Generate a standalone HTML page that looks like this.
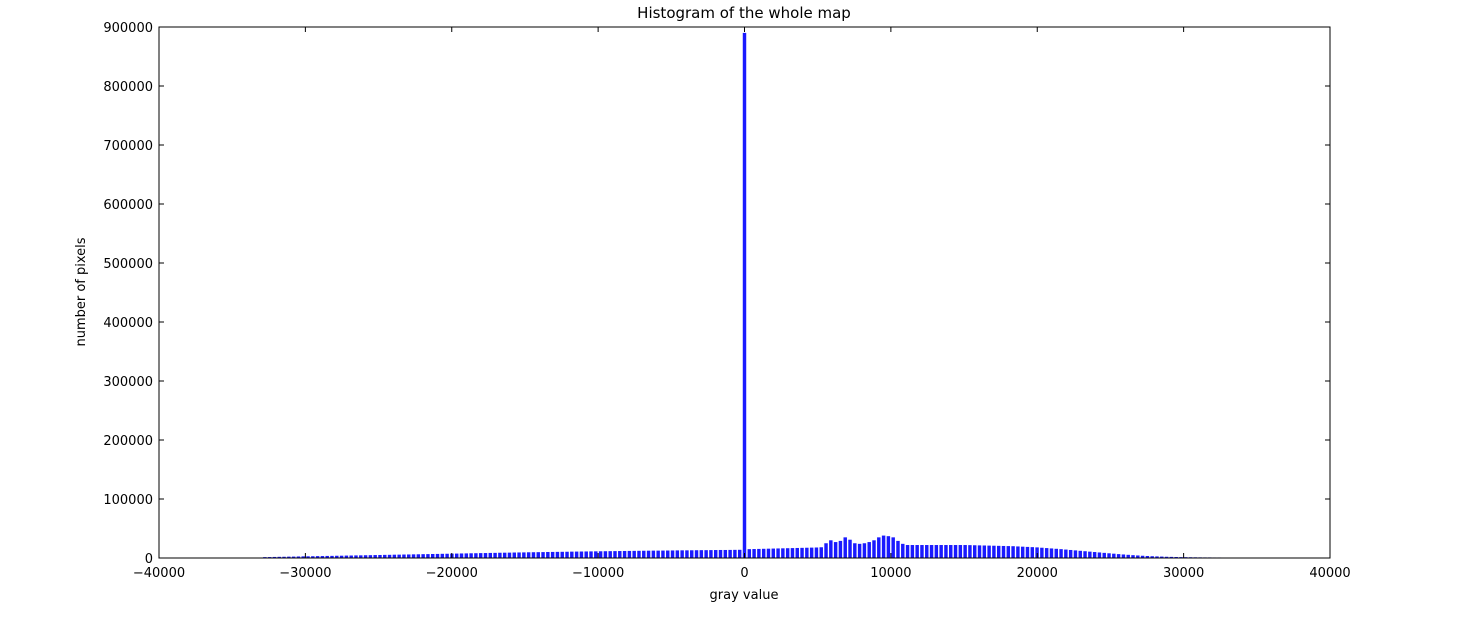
<!DOCTYPE html>
<html><head><meta charset="utf-8"><style>
body{margin:0;background:#fff;}
svg text{font-family:"DejaVu Sans","Liberation Sans",sans-serif;fill:#000;}
</style></head><body>
<svg id="chart" width="1466" height="620" xmlns="http://www.w3.org/2000/svg">
<text x="744" y="18" font-size="15" text-anchor="middle">Histogram of the whole map</text>
<g id="bars"></g>
<g id="axes"></g>
<rect x="159" y="27" width="1171" height="531" fill="none" stroke="#000" stroke-width="1"/>
<text x="744" y="599" font-size="13" text-anchor="middle">gray value</text>
<text x="0" y="0" font-size="13" text-anchor="middle" transform="translate(85,292) rotate(-90)">number of pixels</text>
</svg>
<script>
const xTicks=[-40000,-30000,-20000,-10000,0,10000,20000,30000,40000];
const xTickLabels=["\u221240000","\u221230000","\u221220000","\u221210000","0","10000","20000","30000","40000"];
const yTicks=[0,100000,200000,300000,400000,500000,600000,700000,800000,900000];
const yTickLabels=["0","100000","200000","300000","400000","500000","600000","700000","800000","900000"];
const binStart=-32932;
const binWidth=327.68;
const countsK=[1.5,1.6,1.8,2,2.1,2.3,2.4,2.6,2.8,2.9,
3.0,3.2,3.3,3.5,3.6,3.8,3.9,4.1,4.2,4.4,
4.5,4.7,4.8,5.0,5.1,5.3,5.4,5.6,5.7,5.9,
6.0,6.2,6.3,6.5,6.6,6.8,6.9,7.1,7.2,7.4,
7.5,7.7,7.8,8.0,8.1,8.3,8.4,8.6,8.7,8.9,
9.0,9.1,9.3,9.4,9.5,9.7,9.8,9.9,10.0,10.2,
10.3,10.4,10.5,10.6,10.8,10.9,11.0,11.1,11.2,11.3,
11.4,11.5,11.6,11.7,11.8,11.9,12.0,12.1,12.2,12.3,
12.4,12.5,12.5,12.6,12.7,12.8,12.9,13.0,13.0,13.1,
13.2,13.3,13.3,13.4,13.5,13.6,13.6,13.7,13.8,13.9,
890,
15.0,15.2,15.4,15.6,15.8,16.0,16.2,16.4,16.6,16.8,
17,17.2,17.4,17.6,17.8,18.2,25,30,27,29,
35,31,25,24,25,27,30,35,38,37,
35,29,24,22,22,22,22,22,22,22,
22,22,22,22,22,22,21.8,21.6,21.4,21.2,
21,20.8,20.6,20.4,20.2,20,19.6,19.2,18.8,18.4,
18,17.4,16.8,16.2,15.6,15,14.3,13.6,12.9,12.2,
11.5,10.8,10.1,9.4,8.7,8,7.3,6.6,6,5.4,
4.8,4.3,3.8,3.4,3,2.7,2.4,2.1,1.9,1.7,
1.5,1.4,1.3,1.2,1.1,1.0,1.0,0.9,0.9];
const NS="http://www.w3.org/2000/svg";
const L=159,R=1330,T=27,B=558;
const xs=v=>L+(v+40000)/80000*(R-L);
const ys=v=>B-v/900000*(B-T);
const bars=document.getElementById('bars');
countsK.forEach((c,i)=>{
  const x0=xs(binStart+i*binWidth), x1=xs(binStart+(i+1)*binWidth);
  const w=(x1-x0)*0.72;
  const r=document.createElementNS(NS,'rect');
  
  
  r.setAttribute('x',x0+(x1-x0-w)/2);
  r.setAttribute('y',ys(c*1000));
  r.setAttribute('width',w);
  r.setAttribute('height',B-ys(c*1000));
  r.setAttribute('fill','#1a1aff');
  bars.appendChild(r);
});
const axes=document.getElementById('axes');
xTicks.forEach((t,i)=>{
  const x=xs(t);
  [[B,B-5],[T,T+5]].forEach(p=>{
    const l=document.createElementNS(NS,'line');
    
    
    l.setAttribute('x1',x);l.setAttribute('x2',x);l.setAttribute('y1',p[0]);l.setAttribute('y2',p[1]);
    l.setAttribute('stroke','#000');
    axes.appendChild(l);
  });
  const tx=document.createElementNS(NS,'text');
  
  
  tx.setAttribute('x',x);tx.setAttribute('y',B+19);
  tx.setAttribute('font-size','13');tx.setAttribute('text-anchor','middle');
  tx.textContent=xTickLabels[i];
  axes.appendChild(tx);
});
yTicks.forEach((t,i)=>{
  const y=ys(t);
  [[L,L+5],[R,R-5]].forEach(p=>{
    const l=document.createElementNS(NS,'line');
    
    
    l.setAttribute('x1',p[0]);l.setAttribute('x2',p[1]);l.setAttribute('y1',y);l.setAttribute('y2',y);
    l.setAttribute('stroke','#000');
    axes.appendChild(l);
  });
  const tx=document.createElementNS(NS,'text');
  
  
  tx.setAttribute('x',L-6);tx.setAttribute('y',y+5);
  tx.setAttribute('font-size','13');tx.setAttribute('text-anchor','end');
  tx.textContent=yTickLabels[i];
  axes.appendChild(tx);
});
</script>
</body></html>
